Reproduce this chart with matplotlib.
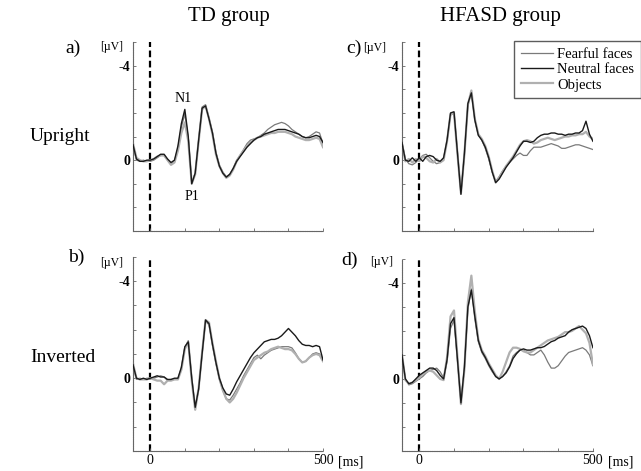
import numpy as np
import matplotlib
matplotlib.use("Agg")
import matplotlib.pyplot as plt
from matplotlib.lines import Line2D

plt.rcParams['font.family'] = ['Liberation Serif', 'DejaVu Serif']

# time axis in ms, one sample every 10 ms
times = np.arange(-50, 501, 10)

conditions = ['Fearful faces', 'Neutral faces', 'Objects']
groups = ['TD group', 'HFASD group']
orientations = ['Upright', 'Inverted']

# a) TD upright (µV)
fearful_a = [-0.6, 0.0, 0.05, 0.0, 0.05,
             0.05, 0.0, -0.1, -0.2, -0.2, 0.0, 0.15, 0.05, -0.5, -1.4,
             -1.95, -0.95, 0.95, 0.55, -0.85, -2.25, -2.35, -1.8, -1.2, -0.35,
             0.2, 0.5, 0.7, 0.6, 0.35, 0.0, -0.2, -0.45, -0.7, -0.85,
             -0.9, -0.95, -1.05, -1.15, -1.3, -1.4, -1.5, -1.55, -1.6, -1.55,
             -1.45, -1.3, -1.2, -1.1, -1.0, -0.95, -1.0, -1.1, -1.2, -1.15, -0.7]
neutral_a = [-0.65, -0.05, 0.05, 0.05, 0.0,
             0.0, -0.05, -0.15, -0.25, -0.25, -0.05, 0.1, 0.0, -0.6, -1.55,
             -2.15, -1.0, 1.0, 0.55, -0.85, -2.2, -2.3, -1.75, -1.15, -0.3,
             0.25, 0.55, 0.72, 0.6, 0.35, 0.05, -0.15, -0.35, -0.55, -0.7,
             -0.85, -0.95, -1.0, -1.1, -1.15, -1.2, -1.25, -1.3, -1.3, -1.3,
             -1.25, -1.2, -1.15, -1.1, -1.0, -0.95, -0.95, -1.0, -1.05, -1.0, -0.75]
objects_a = [-0.7, -0.1, 0.0, 0.05, 0.05,
             0.0, -0.05, -0.15, -0.2, -0.2, 0.0, 0.2, 0.1, -0.4, -1.15,
             -1.6, -0.8, 1.0, 0.6, -0.8, -2.15, -2.3, -1.75, -1.1, -0.25,
             0.25, 0.55, 0.75, 0.65, 0.4, 0.05, -0.2, -0.4, -0.6, -0.75,
             -0.85, -0.95, -1.0, -1.05, -1.1, -1.15, -1.15, -1.2, -1.2, -1.2,
             -1.15, -1.1, -1.0, -0.95, -0.9, -0.85, -0.85, -0.9, -0.95, -0.9, -0.55]

# b) TD inverted
fearful_b = [-0.5, 0.05, 0.0, 0.05, 0.0,
             0.0, 0.0, -0.05, -0.1, -0.05, 0.1, 0.05, 0.05, 0.05, -0.4,
             -1.25, -1.55, -0.05, 1.25, 0.45, -1.0, -2.35, -2.2, -1.35, -0.6,
             0.05, 0.5, 0.85, 0.9, 0.7, 0.45, 0.2, -0.1, -0.35, -0.6,
             -0.85, -0.95, -0.8, -0.95, -1.05, -1.15, -1.2, -1.25, -1.3, -1.3,
             -1.3, -1.25, -1.05, -0.8, -0.65, -0.7, -0.85, -1.0, -1.05, -1.0, -0.75]
neutral_b = [-0.55, 0.0, 0.05, 0.0, 0.05,
             0.0, -0.05, -0.1, -0.05, -0.05, 0.05, 0.05, 0.0, 0.0, -0.45,
             -1.3, -1.5, 0.0, 1.2, 0.45, -1.0, -2.4, -2.25, -1.4, -0.65,
             0.0, 0.4, 0.65, 0.7, 0.45, 0.15, -0.1, -0.35, -0.6, -0.85,
             -1.05, -1.2, -1.35, -1.5, -1.55, -1.6, -1.6, -1.65, -1.75, -1.9,
             -2.05, -1.9, -1.75, -1.55, -1.4, -1.35, -1.35, -1.3, -1.35, -1.3, -0.75]
objects_b = [-0.6, 0.0, 0.05, 0.05, 0.05,
             0.0, 0.05, 0.1, 0.1, 0.25, 0.1, 0.1, 0.05, 0.05, -0.35,
             -1.2, -1.5, 0.1, 1.3, 0.4, -1.05, -2.4, -2.3, -1.45, -0.7,
             0.0, 0.5, 0.85, 1.0, 0.85, 0.6, 0.3, 0.0, -0.25, -0.5,
             -0.75, -0.85, -0.95, -1.05, -1.1, -1.2, -1.25, -1.3, -1.25, -1.2,
             -1.2, -1.15, -1.0, -0.8, -0.65, -0.7, -0.85, -0.95, -1.0, -0.95, -0.7]

# c) HFASD upright
fearful_c = [-0.8, -0.05, 0.15, 0.2, 0.1,
             -0.05, -0.2, -0.25, -0.1, 0.05, 0.15, 0.1, -0.05, -0.8, -1.9,
             -2.0, -0.35, 1.35, -0.2, -2.3, -2.9, -1.7, -1.1, -0.85, -0.5,
             -0.05, 0.5, 0.9, 0.7, 0.45, 0.25, 0.1, -0.05, -0.2, -0.3,
             -0.2, -0.2, -0.4, -0.55, -0.55, -0.55, -0.6, -0.65, -0.7, -0.65,
             -0.6, -0.5, -0.5, -0.55, -0.6, -0.65, -0.65, -0.6, -0.55, -0.5, -0.45]
neutral_c = [-0.75, 0.0, 0.05, -0.1, 0.05,
             -0.1, 0.05, -0.15, -0.2, -0.15, 0.0, 0.05, -0.1, -0.85, -2.0,
             -2.05, -0.3, 1.45, -0.3, -2.4, -2.85, -1.7, -1.05, -0.85, -0.55,
             -0.1, 0.5, 0.95, 0.8, 0.55, 0.3, 0.1, -0.1, -0.35, -0.6,
             -0.8, -0.8, -0.75, -0.8, -0.95, -1.05, -1.1, -1.1, -1.15, -1.15,
             -1.1, -1.1, -1.05, -1.1, -1.1, -1.15, -1.15, -1.25, -1.65, -1.1, -0.8]
objects_c = [-0.7, 0.05, -0.05, 0.1, -0.05,
             0.05, -0.15, -0.1, 0.05, 0.1, -0.05, 0.1, 0.0, -0.8, -1.95,
             -2.0, -0.25, 1.4, -0.25, -2.35, -2.95, -1.75, -1.1, -0.9, -0.6,
             -0.15, 0.45, 0.95, 0.75, 0.5, 0.25, 0.05, -0.15, -0.4, -0.65,
             -0.8, -0.85, -0.8, -0.7, -0.75, -0.85, -0.9, -0.95, -0.9, -0.85,
             -0.9, -0.95, -1.0, -1.0, -1.05, -1.05, -1.1, -1.1, -1.2, -1.0, -0.9]

# d) HFASD inverted
fearful_d = [-0.95, 0.0, 0.25, 0.2, 0.1,
             0.0, -0.1, -0.25, -0.35, -0.4, -0.45, -0.3, -0.05, -0.7, -2.1,
             -2.45, -0.75, 0.95, -0.45, -2.9, -3.75, -2.5, -1.55, -1.1, -0.85,
             -0.55, -0.3, -0.1, 0.0, -0.1, -0.3, -0.55, -0.95, -1.1, -1.2,
             -1.2, -1.1, -1.0, -1.0, -1.1, -1.2, -1.0, -0.7, -0.45, -0.45,
             -0.55, -0.75, -0.95, -1.1, -1.15, -1.2, -1.25, -1.3, -1.2, -1.0, -0.55]
neutral_d = [-1.0, 0.0, 0.2, 0.15, 0.0,
             -0.15, -0.25, -0.35, -0.45, -0.45, -0.35, -0.15, 0.0, -0.8, -2.3,
             -2.55, -0.8, 1.0, -0.5, -3.0, -3.7, -2.6, -1.6, -1.15, -0.9,
             -0.6, -0.35, -0.1, 0.0, -0.1, -0.25, -0.5, -0.85, -1.05, -1.2,
             -1.25, -1.2, -1.2, -1.25, -1.3, -1.3, -1.35, -1.45, -1.55, -1.6,
             -1.7, -1.75, -1.8, -1.95, -2.05, -2.1, -2.15, -2.2, -2.1, -1.8, -1.3]
objects_d = [-1.05, 0.05, 0.2, 0.15, 0.05,
             -0.05, -0.2, -0.3, -0.35, -0.3, -0.15, 0.0, 0.05, -0.9, -2.6,
             -2.85, -0.9, 1.05, -0.4, -3.2, -4.3, -2.8, -1.65, -1.2, -0.95,
             -0.65, -0.4, -0.15, 0.0, -0.3, -0.7, -1.1, -1.3, -1.3, -1.25,
             -1.15, -1.1, -1.1, -1.2, -1.3, -1.4, -1.5, -1.6, -1.65, -1.7,
             -1.75, -1.85, -1.95, -1.95, -2.0, -2.1, -2.2, -2.05, -1.9, -1.5, -0.6]

line_styles = {
    'Fearful faces': dict(color='#7a7a7a', lw=0.9),
    'Neutral faces': dict(color='#1a1a1a', lw=1.0),
    'Objects': dict(color='#b0b0b0', lw=1.6),
}


def setup_axes(ax, show_xlabels):
    """Sparse ERP-style axes: left/bottom spines, -4 and 0 labelled, negative up."""
    ax.set_xlim(-50, 500)
    ax.set_ylim(3, -5)
    for side in ['top', 'right']:
        ax.spines[side].set_visible(False)
    for side in ['left', 'bottom']:
        ax.spines[side].set_color('#666666')
        ax.spines[side].set_linewidth(0.8)
        ax.spines[side].set_linestyle((0, (1, 0.6)))
    ax.set_yticks(np.arange(-5, 4, 1))
    ax.set_yticklabels(['' if v not in (-4, 0) else str(v) for v in range(-5, 4)])
    ax.set_xticks(np.arange(0, 501, 100))
    if show_xlabels:
        ax.set_xticklabels(['0', '', '', '', '', '500'])
        ax.text(1.08, -0.055, '[ms]', transform=ax.transAxes, ha='left', va='center',
                fontsize=10)
    else:
        ax.set_xticklabels([])
    ax.tick_params(axis='both', direction='in', length=2, width=0.6, colors='#666666',
                   labelcolor='black', labelsize=10, pad=2)
    for lab in ax.get_yticklabels():
        lab.set_fontweight('bold')
    ax.axvline(0, color='black', lw=1.6, ls=(0, (3, 1.6)), zorder=1)


def plot_panel(ax, fearful, neutral, objects):
    for name, values in zip(conditions, [fearful, neutral, objects]):
        ax.plot(times, values, zorder=3 if name == 'Neutral faces' else 2,
                **line_styles[name])


def main():
    fig = plt.figure(figsize=(6.41, 4.71), dpi=100)

    ax_a = fig.add_axes([0.2075, 0.5096, 0.2964, 0.401])
    ax_c = fig.add_axes([0.627, 0.5096, 0.298, 0.401])
    ax_b = fig.add_axes([0.2075, 0.0425, 0.2964, 0.412])
    ax_d = fig.add_axes([0.627, 0.0425, 0.298, 0.408])

    plot_panel(ax_a, fearful_a, neutral_a, objects_a)
    plot_panel(ax_b, fearful_b, neutral_b, objects_b)
    plot_panel(ax_c, fearful_c, neutral_c, objects_c)
    plot_panel(ax_d, fearful_d, neutral_d, objects_d)

    setup_axes(ax_a, False)
    setup_axes(ax_c, False)
    setup_axes(ax_b, True)
    setup_axes(ax_d, True)

    # component labels
    ax_a.text(96, -2.6, 'N1', ha='center', va='center', fontsize=10)
    ax_a.text(120, 1.55, 'P1', ha='center', va='center', fontsize=10)

    # column and row headings
    fig.text(229 / 641, 1 - 17 / 471, groups[0], ha='center', va='center', fontsize=15)
    fig.text(500 / 641, 1 - 17 / 471, groups[1], ha='center', va='center', fontsize=15)
    fig.text(60 / 641, 1 - 137 / 471, orientations[0], ha='center', va='center', fontsize=14)
    fig.text(63 / 641, 1 - 357 / 471, orientations[1], ha='center', va='center', fontsize=14)

    # panel letters and unit labels
    for letter, (lx, ly), (ux, uy) in [('a)', (73, 48), (112, 47)),
                                       ('b)', (76, 257), (112, 263)),
                                       ('c)', (354, 48), (375, 48)),
                                       ('d)', (350, 260), (382, 262))]:
        fig.text(lx / 641, 1 - ly / 471, letter, ha='center', va='center', fontsize=14)
        fig.text(ux / 641, 1 - uy / 471, '[µV]', ha='center', va='center', fontsize=8.5)

    handles = [Line2D([], [], **line_styles[name]) for name in conditions]
    fig.legend(handles, conditions, loc='upper right', bbox_to_anchor=(1.0, 1 - 41 / 471),
               fontsize=10.5, frameon=True, fancybox=False, edgecolor='#333333',
               handlelength=2.2, handletextpad=0.3, labelspacing=0.15, borderpad=0.45,
               borderaxespad=0.0)

    fig.savefig('out.png', dpi=100, facecolor='white')


if __name__ == "__main__":
    main()
